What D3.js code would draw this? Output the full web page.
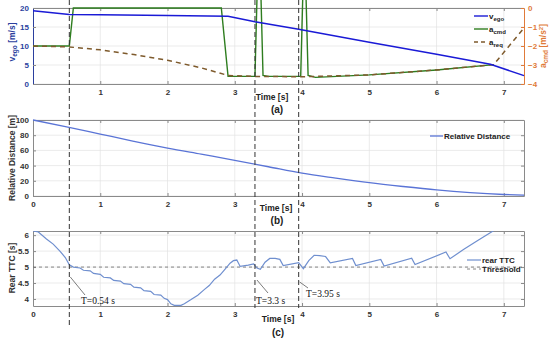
<!DOCTYPE html>
<html>
<head>
<meta charset="utf-8">
<script src="https://cdn.jsdelivr.net/npm/d3@7"></script>
<style>
  body { margin: 0; background: #fff; }
</style>
</head>
<body>
<div id="chart"></div>
<script>
// panel (a): ego speed and accelerations
var vegoT = [0, 0.54, 1, 2, 2.9, 3.3, 3.95, 5, 6, 6.8, 7.3];
var vegoV = [19.3, 18.3, 18.2, 18.0, 17.8, 16.4, 14.4, 11.0, 7.8, 5.2, 2.2];

var acmdT = [0, 0.54, 0.6, 2.8, 2.9, 3.3, 3.33, 3.39, 3.42, 3.5, 3.98, 4.01, 4.06, 4.09, 4.2, 5, 6, 6.85];
var acmdV = [-2.0, -2.0, 0, 0, -3.6, -3.6, 0.5, 0.5, -3.55, -3.6, -3.6, 0.5, 0.5, -3.55, -3.65, -3.52, -3.26, -2.98];

var areqT = [0, 0.54, 1, 1.5, 2, 2.5, 2.9, 3.3, 4, 5, 6, 6.85, 7.3];
var areqV = [-2.0, -2.05, -2.2, -2.45, -2.75, -3.15, -3.55, -3.6, -3.62, -3.52, -3.26, -2.98, -1.05];

// panel (b): relative distance
var distT = [0, 0.5, 1, 1.5, 2, 2.5, 3, 3.5, 4, 4.5, 5, 5.5, 6, 6.5, 7, 7.3];
var distV = [100, 91, 81.5, 72, 63, 55, 47, 38.5, 30, 23.5, 17.5, 12.5, 8, 4.5, 2, 1];

// panel (c): rear TTC
var ttcT = [0, 0.08, 0.2, 0.3, 0.4, 0.48, 0.54, 0.6, 0.7, 0.75, 0.85, 0.9, 1.0, 1.05, 1.15, 1.2, 1.3, 1.35, 1.45, 1.5, 1.6, 1.65, 1.75, 1.8, 1.9, 1.95, 2.0, 2.05, 2.1, 2.2, 2.25, 2.35, 2.45, 2.55, 2.62, 2.7, 2.78, 2.85, 2.93, 2.98, 3.03, 3.08, 3.2, 3.28, 3.33, 3.38, 3.45, 3.52, 3.6, 3.67, 3.72, 3.95, 4.02, 4.1, 4.18, 4.26, 4.35, 4.42, 4.75, 4.8, 5.17, 5.22, 5.63, 5.68, 6.14, 6.2, 6.4, 6.6, 6.84, 6.95];
var ttcV = [6.13, 6.1, 5.88, 5.72, 5.5, 5.3, 5.07, 5.0, 4.97, 4.9, 4.88, 4.8, 4.77, 4.68, 4.66, 4.58, 4.56, 4.48, 4.46, 4.37, 4.35, 4.26, 4.24, 4.14, 4.12, 4.02, 3.98, 3.85, 3.8, 3.8, 3.85, 3.98, 4.12, 4.3, 4.42, 4.62, 4.75, 4.92, 5.12, 5.2, 5.22, 5.02, 5.06, 5.1, 4.97, 4.93, 5.15, 5.27, 5.27, 5.24, 5.05, 5.14, 4.95, 5.2, 5.37, 5.36, 5.33, 5.13, 5.27, 5.05, 5.24, 5.03, 5.28, 5.08, 5.47, 5.26, 5.55, 5.82, 6.13, 6.3];
var threshold = 5;

// event times and labels
var eventT = [0.54, 3.3, 3.95];
var eventLabels = ['T=0.54 s', 'T=3.3 s', 'T=3.95 s'];

var xTicks = [0, 1, 2, 3, 4, 5, 6, 7];

var width = 550, height = 342;
var left = 33, right = 524;
var sans = '"Liberation Sans", Arial, sans-serif';
var serif = '"Liberation Serif", "Times New Roman", serif';

var svg = d3.select('#chart').append('svg')
  .attr('width', width)
  .attr('height', height)
  .attr('font-family', sans);

var x = d3.scaleLinear().domain([0, 7.3]).range([left, right]);

function pts(ts, vs) {
  return ts.map(function(t, i) { return [t, vs[i]]; });
}

// draw the box, grid and ticks of one panel
function frame(y, yTicks, top, bottom, showZero, tickFmt, leftColor, rightTicks) {
  var g = svg.append('g');
  var xt = showZero ? xTicks : xTicks.slice(1);
  // grid
  g.selectAll('.gx').data(xt.filter(function(d) { return d > 0; })).enter().append('line')
    .attr('x1', function(d) { return x(d); }).attr('x2', function(d) { return x(d); })
    .attr('y1', top).attr('y2', bottom)
    .attr('stroke', '#e3e3e3').attr('stroke-width', 0.7);
  g.selectAll('.gy').data(yTicks).enter().append('line')
    .attr('x1', left).attr('x2', right)
    .attr('y1', function(d) { return y(d); }).attr('y2', function(d) { return y(d); })
    .attr('stroke', '#e3e3e3').attr('stroke-width', 0.7);

  g.append('g').attr('transform', 'translate(0,' + bottom + ')')
    .call(d3.axisBottom(x).tickValues(xt).tickSizeInner(-3).tickSizeOuter(0).tickPadding(5));
  g.append('g').attr('transform', 'translate(0,' + top + ')')
    .call(d3.axisTop(x).tickValues(xt).tickSizeInner(-3).tickSizeOuter(0).tickFormat(''));
  var ya = g.append('g').attr('transform', 'translate(' + left + ',0)')
    .call(d3.axisLeft(y).tickValues(yTicks).tickSizeInner(-3).tickSizeOuter(0).tickPadding(4).tickFormat(tickFmt));
  g.selectAll('.domain').attr('stroke', '#8a8a8a');
  g.selectAll('.tick line').attr('stroke', '#8a8a8a');
  g.selectAll('text').attr('font-size', 8).attr('font-weight', 'bold').attr('fill', '#333')
    .attr('font-family', sans);
  ya.selectAll('text').attr('fill', leftColor);
  ya.select('.domain').attr('stroke', leftColor === '#333' ? '#8a8a8a' : leftColor);
  if (rightTicks) {
    g.append('g').attr('transform', 'translate(' + right + ',0)')
      .call(d3.axisRight(y).tickValues(yTicks).tickSizeInner(-3).tickSizeOuter(0).tickFormat(''))
      .selectAll('.domain, .tick line').attr('stroke', '#8a8a8a');
  }
  return g;
}

function axisLabel(txt, xx, yy, color) {
  return svg.append('text')
    .attr('transform', 'translate(' + xx + ',' + yy + ') rotate(-90)')
    .attr('text-anchor', 'middle')
    .attr('font-size', 8.5).attr('font-weight', 'bold')
    .attr('fill', color).text(txt);
}

function centerText(txt, xx, yy, size) {
  svg.append('text').attr('x', xx).attr('y', yy)
    .attr('text-anchor', 'middle').attr('font-size', size).attr('font-weight', 'bold')
    .attr('fill', '#222').text(txt);
}

// ---------- panel (a)
var yA = d3.scaleLinear().domain([0, 20]).range([84, 8]);
var yA2 = d3.scaleLinear().domain([-4, 0]).range([84, 8]);
frame(yA, [0, 5, 10, 15, 20], 8, 84, false, d3.format('d'), '#2b3f9e', false);

var ra = svg.append('g').attr('transform', 'translate(' + right + ',0)')
  .call(d3.axisRight(yA2).tickValues([-4, -3, -2, -1, 0]).tickFormat(d3.format('d'))
    .tickSizeInner(-3).tickSizeOuter(0).tickPadding(4));
ra.selectAll('.domain, .tick line').attr('stroke', '#e07b3a');
ra.selectAll('text').attr('font-size', 8).attr('font-weight', 'bold').attr('fill', '#e07b3a')
  .attr('font-family', sans);

var lineA2 = d3.line().x(function(d) { return x(d[0]); }).y(function(d) { return yA2(d[1]); });
var lineA = d3.line().x(function(d) { return x(d[0]); }).y(function(d) { return yA(d[1]); });

svg.append('path').datum(pts(acmdT, acmdV)).attr('d', lineA2)
  .attr('fill', 'none').attr('stroke', '#2e7d1f').attr('stroke-width', 1.4);
svg.append('path').datum(pts(areqT, areqV)).attr('d', lineA2)
  .attr('fill', 'none').attr('stroke', '#7e5a2c').attr('stroke-width', 1.5)
  .attr('stroke-dasharray', '5,4');
svg.append('path').datum(pts(vegoT, vegoV)).attr('d', lineA)
  .attr('fill', 'none').attr('stroke', '#1a1ad6').attr('stroke-width', 1.5);

// legend (a)
var legA = [
  { main: 'v', sub: 'ego', color: '#1a1ad6', dash: null },
  { main: 'a', sub: 'cmd', color: '#2e7d1f', dash: null },
  { main: 'a', sub: 'req', color: '#7e5a2c', dash: '4,3' }
];
legA.forEach(function(d, i) {
  var yy = 16 + i * 13;
  svg.append('line').attr('x1', 474).attr('x2', 488).attr('y1', yy).attr('y2', yy)
    .attr('stroke', d.color).attr('stroke-width', 1.4).attr('stroke-dasharray', d.dash);
  var t = svg.append('text').attr('x', 489).attr('y', yy + 2.5)
    .attr('font-size', 8).attr('font-weight', 'bold').attr('fill', '#222');
  t.append('tspan').text(d.main);
  t.append('tspan').attr('font-size', 6).attr('dy', 2).text(d.sub);
});

// axis labels (a)
var la = svg.append('text')
  .attr('transform', 'translate(15,42) rotate(-90)')
  .attr('text-anchor', 'middle').attr('font-size', 8.5).attr('font-weight', 'bold').attr('fill', '#2b3f9e');
la.append('tspan').text('v');
la.append('tspan').attr('font-size', 6.5).attr('dy', 2).text('ego');
la.append('tspan').attr('dy', -2).text(' [m/s]');

var ra2 = svg.append('text')
  .attr('transform', 'translate(546,46) rotate(-90)')
  .attr('text-anchor', 'middle').attr('font-size', 8.5).attr('font-weight', 'bold').attr('fill', '#e07b3a');
ra2.append('tspan').text('a');
ra2.append('tspan').attr('font-size', 6.5).attr('dy', 2).text('cmd');
ra2.append('tspan').attr('dy', -2).text(' [m/s');
ra2.append('tspan').attr('font-size', 6).attr('dy', -3).text('2');
ra2.append('tspan').attr('dy', 3).text(']');

centerText('Time [s]', 272, 100, 8.5);
centerText('(a)', 277, 113, 10);

// ---------- panel (b)
var yB = d3.scaleLinear().domain([0, 100]).range([196, 120]);
frame(yB, [0, 20, 40, 60, 80, 100], 120, 196, true, d3.format('d'), '#333', true);
svg.append('path').datum(pts(distT, distV))
  .attr('d', d3.line().curve(d3.curveMonotoneX).x(function(d) { return x(d[0]); }).y(function(d) { return yB(d[1]); }))
  .attr('fill', 'none').attr('stroke', '#5a74d6').attr('stroke-width', 1.3);

svg.append('line').attr('x1', 430).attr('x2', 443).attr('y1', 136).attr('y2', 136)
  .attr('stroke', '#5a74d6').attr('stroke-width', 1.3);
svg.append('text').attr('x', 444).attr('y', 139).attr('font-size', 8).attr('font-weight', 'bold')
  .attr('fill', '#222').text('Relative Distance');

axisLabel('Relative Distance [m]', 15, 158, '#333');
centerText('Time [s]', 276, 211, 8.5);
centerText('(b)', 277, 224, 10);

// ---------- panel (c)
var yC = d3.scaleLinear().domain([3.78, 6.13]).range([306, 231]);
frame(yC, [4, 4.5, 5, 5.5, 6], 231, 306, true, d3.format(''), '#333', true);

svg.append('clipPath').attr('id', 'clipC').append('rect')
  .attr('x', left).attr('y', 231).attr('width', right - left).attr('height', 75);

svg.append('line').attr('x1', left).attr('x2', right)
  .attr('y1', yC(threshold)).attr('y2', yC(threshold))
  .attr('stroke', '#666').attr('stroke-width', 0.8).attr('stroke-dasharray', '3,3');

svg.append('path').datum(pts(ttcT, ttcV))
  .attr('clip-path', 'url(#clipC)')
  .attr('d', d3.line().x(function(d) { return x(d[0]); }).y(function(d) { return yC(d[1]); }))
  .attr('fill', 'none').attr('stroke', '#6f8fcf').attr('stroke-width', 1.2);

svg.append('line').attr('x1', 467).attr('x2', 481).attr('y1', 260).attr('y2', 260)
  .attr('stroke', '#6f8fcf').attr('stroke-width', 1.2);
svg.append('text').attr('x', 482).attr('y', 263).attr('font-size', 8).attr('font-weight', 'bold')
  .attr('fill', '#222').text('rear TTC');
svg.append('line').attr('x1', 467).attr('x2', 481).attr('y1', 269).attr('y2', 269)
  .attr('stroke', '#666').attr('stroke-width', 0.8).attr('stroke-dasharray', '3,3');
svg.append('text').attr('x', 482).attr('y', 272).attr('font-size', 8).attr('font-weight', 'bold')
  .attr('fill', '#222').text('Threshold');

axisLabel('Rear TTC [s]', 15, 268, '#333');
centerText('Time [s]', 278, 322, 8.5);
centerText('(c)', 278, 336, 10);

// event markers: dashed verticals across all panels
var vEnd = [328, 308, 308];
eventT.forEach(function(t, i) {
  svg.append('line').attr('x1', x(t)).attr('x2', x(t)).attr('y1', 0).attr('y2', vEnd[i])
    .attr('stroke', '#333').attr('stroke-width', 1).attr('stroke-dasharray', '5,3');
});

// annotations in (c)
var ann = [
  { p: [x(eventT[0]) + 1, 277], q: [85, 295], tx: 81, ty: 304 },
  { p: [x(eventT[1]) + 2, 280], q: [268, 293], tx: 256, ty: 304 },
  { p: [x(eventT[2]) + 1, 282], q: [308, 288], tx: 306, ty: 297 }
];
ann.forEach(function(a, i) {
  svg.append('line').attr('x1', a.p[0]).attr('y1', a.p[1]).attr('x2', a.q[0]).attr('y2', a.q[1])
    .attr('stroke', '#444').attr('stroke-width', 0.7);
  svg.append('text').attr('x', a.tx).attr('y', a.ty)
    .attr('font-family', serif)
    .attr('font-size', 9.5).attr('fill', '#111').text(eventLabels[i]);
});
</script>
</body>
</html>
